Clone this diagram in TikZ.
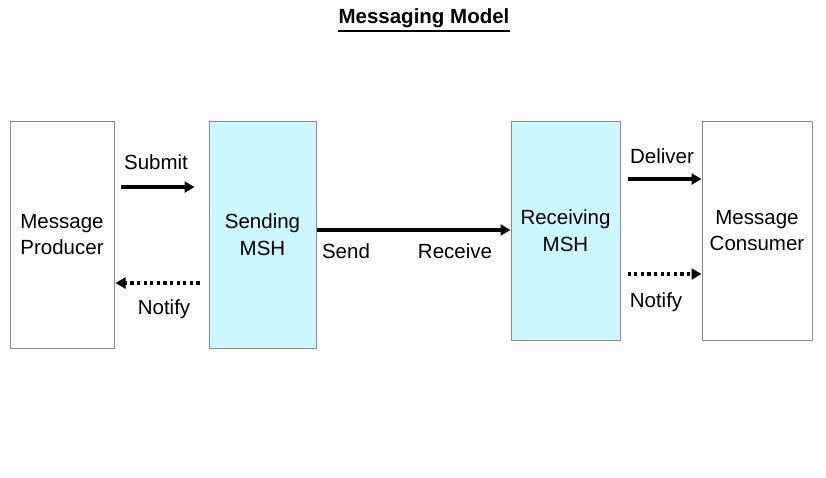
\documentclass[tikz,border=0pt]{standalone}
\usepackage{fontspec}
\setmainfont{Liberation Sans}
\usetikzlibrary{arrows.meta}
\definecolor{mshfill}{HTML}{CCF7FF}
\definecolor{boxline}{HTML}{8A8A8A}
\tikzset{
  x=1pt, y=-1pt,
  box/.style={draw=boxline, line width=1pt, fill=white, inner sep=0pt, align=center, font=\fontsize{20.5}{26.5}\selectfont},
  msh/.style={box, fill=mshfill},
  lbl/.style={font=\fontsize{20.5}{24}\selectfont, inner sep=0pt},
  flow/.style={line width=3.2pt, -{Triangle[length=10pt,width=11pt]}},
  dotflow/.style={flow, dash pattern=on 3.2pt off 3.4pt}
}
\begin{document}
\begin{tikzpicture}
\useasboundingbox[fill=white] (0,0) rectangle (826,477);
\node[lbl, font=\fontsize{20.5}{24}\selectfont\bfseries] (title) at (424,18) {Messaging Model};
\draw[line width=1.6pt] ([yshift=-3pt]title.south west) -- ([yshift=-3pt]title.south east);
\node[box, minimum width=104pt, minimum height=227pt, text depth=-2pt] (prod) at (62,234.5) {Message\\Producer};
\node[msh, minimum width=107pt, minimum height=227pt, text depth=-2pt] (send) at (262.5,234.5) {Sending\\MSH};
\node[msh, minimum width=109pt, minimum height=219pt, text depth=-1pt] (recv) at (565.5,230.5) {Receiving\\MSH};
\node[box, minimum width=110pt, minimum height=219pt, text depth=-1pt] (cons) at (757,230.5) {Message\\Consumer};
\coordinate (ysub) at (0,187);
\coordinate (ynot) at (0,283);
\coordinate (ysnd) at (0,230);
\coordinate (ydel) at (0,179);
\coordinate (ynot2) at (0,274);
\draw[flow, shorten <=6pt, shorten >=14pt] (prod.east |- ysub) -- (send.west |- ysub);
\draw[dotflow, shorten <=9pt, shorten >=1pt] (send.west |- ynot) -- (prod.east |- ynot);
\draw[flow] (send.east |- ysnd) -- (recv.west |- ysnd);
\draw[flow, shorten <=7pt] (recv.east |- ydel) -- (cons.west |- ydel);
\draw[dotflow, shorten <=7pt] (recv.east |- ynot2) -- (cons.west |- ynot2);
\node[lbl] (lsub) at (156,162) {Submit};
\node[lbl] (lnot) at (164,309) {Notify};
\node[lbl] (lsnd) at (346,251) {Send};
\node[lbl] (lrcv) at (455,251) {Receive};
\node[lbl] (ldel) at (662,156) {Deliver};
\node[lbl] (lnot2) at (656,302) {Notify};
\end{tikzpicture}
\end{document}
